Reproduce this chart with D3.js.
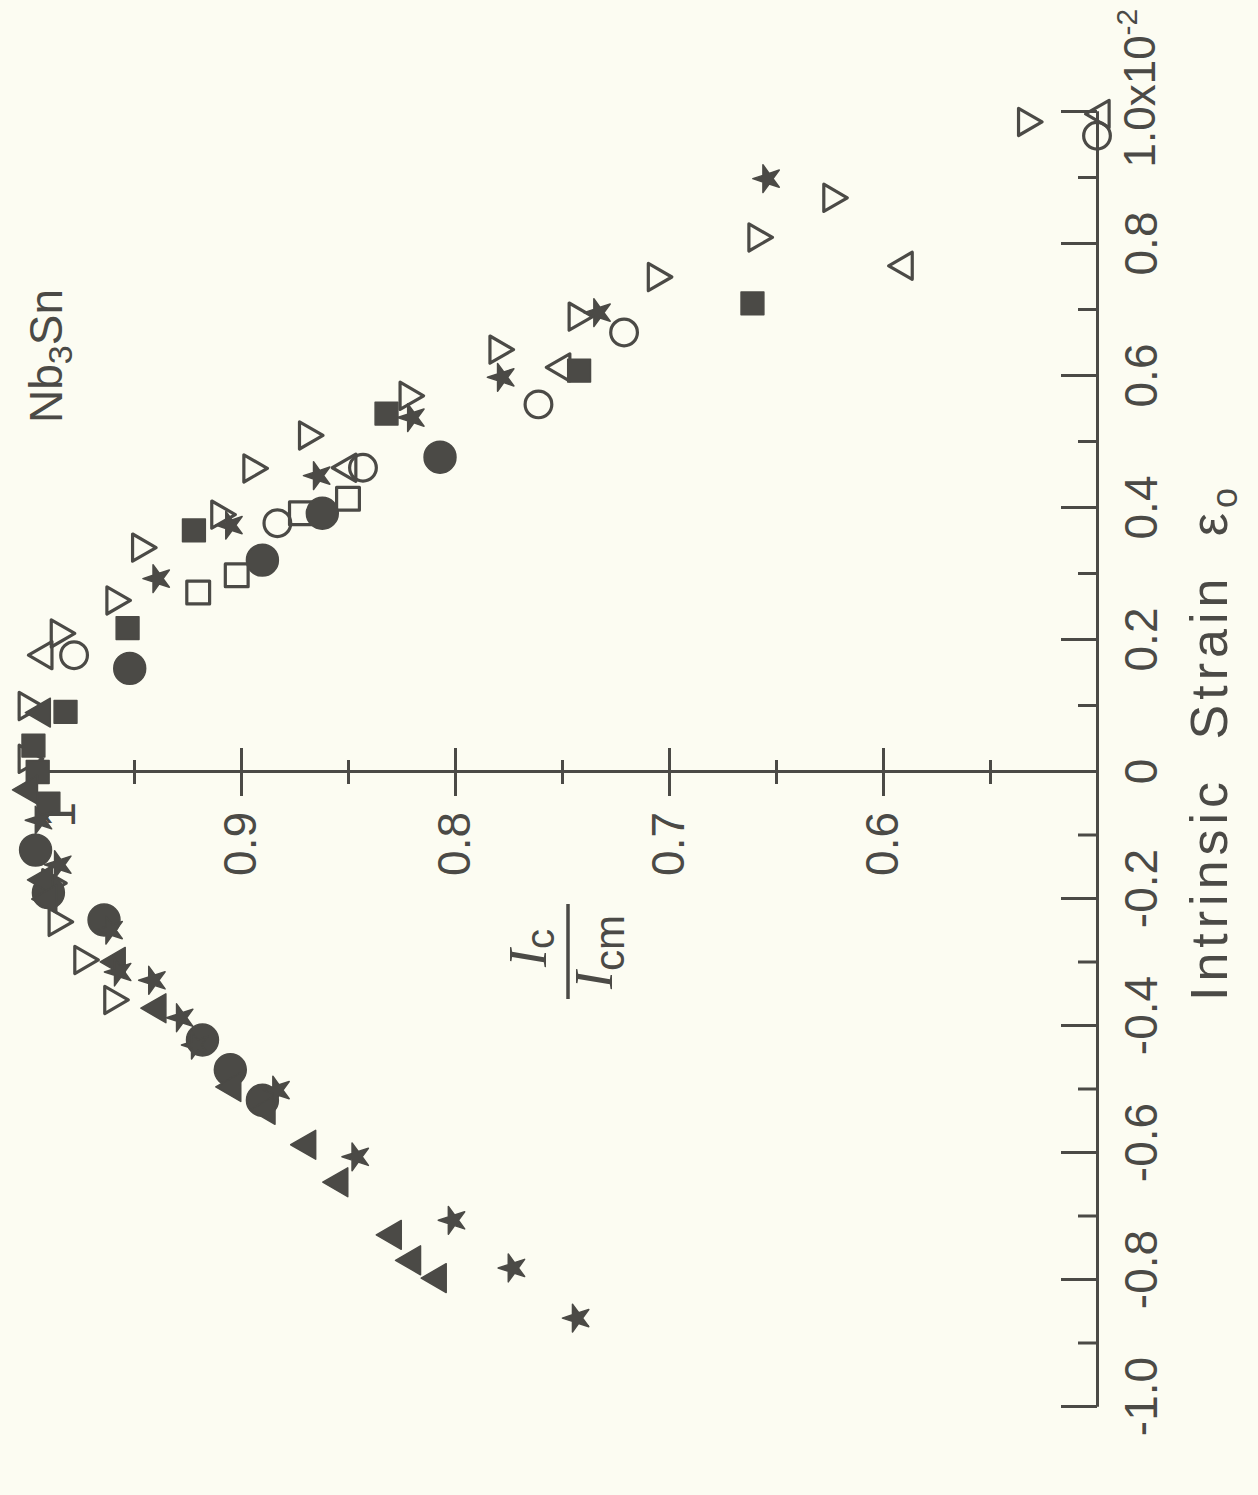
<!DOCTYPE html>
<html>
<head>
<meta charset="utf-8">
<script src="https://cdn.jsdelivr.net/npm/d3@7"></script>
<style>
  body { margin: 0; background: #fcfcf2; }
  svg { display: block; }
</style>
</head>
<body>
<script>
// [strain (x 10^-2), Ic/Icm]
const openDown = [[0.10, 1.0], [0.21, 0.985], [0.26, 0.959], [0.34, 0.947], [0.39, 0.910], [0.46, 0.895],
  [0.51, 0.869], [0.57, 0.822], [0.64, 0.780], [0.69, 0.743], [0.75, 0.706], [0.81, 0.659], [0.87, 0.624],
  [0.985, 0.533], [0.02, 1.0], [-0.175, 0.989], [-0.236, 0.986], [-0.296, 0.974], [-0.359, 0.960]];
const filledUp = [[-0.299, 0.958], [-0.372, 0.939], [-0.496, 0.904], [-0.532, 0.888], [-0.587, 0.869],
  [-0.646, 0.854], [-0.729, 0.829], [-0.769, 0.820], [-0.797, 0.808], [0.09, 0.993], [-0.028, 0.999],
  [-0.17, 0.992], [-0.2, 0.99]];
const stars = [[0.899, 0.654], [0.696, 0.733], [0.598, 0.778], [0.537, 0.820], [0.449, 0.864], [0.374, 0.905],
  [0.293, 0.939], [-0.249, 0.961], [-0.315, 0.957], [-0.328, 0.941], [-0.387, 0.928], [-0.43, 0.921],
  [-0.501, 0.883], [-0.606, 0.846], [-0.706, 0.801], [-0.781, 0.773], [-0.860, 0.743], [-0.146, 0.985],
  [-0.076, 0.994]];
const filledCircles = [[0.477, 0.807], [0.392, 0.862], [0.321, 0.890], [0.157, 0.952], [-0.233, 0.964],
  [-0.422, 0.918], [-0.469, 0.905], [-0.517, 0.890], [-0.123, 0.996], [-0.19, 0.99]];
const openCircles = [[0.964, 0.50], [0.666, 0.721], [0.557, 0.761], [0.461, 0.843], [0.377, 0.883], [0.177, 0.978]];
const openUp = [[0.997, 0.498], [0.767, 0.590], [0.613, 0.750], [0.461, 0.850], [0.177, 0.992]];
const openSquares = [[0.414, 0.850], [0.392, 0.872], [0.298, 0.902], [0.272, 0.920]];
const filledSquares = [[0.710, 0.661], [0.608, 0.742], [0.543, 0.832], [0.366, 0.922], [0.218, 0.953], [0.091, 0.982],
  [0.04, 0.997], [0.0, 0.995], [-0.05, 0.99]];

const strainTicks = [-1, -0.8, -0.6, -0.4, -0.2, 0, 0.2, 0.4, 0.6, 0.8, 1];
const strainMinor = [-0.9, -0.7, -0.5, -0.3, -0.1, 0.1, 0.3, 0.5, 0.7, 0.9];
const ratioTicks = [0.6, 0.7, 0.8, 0.9];
const ratioMinor = [0.55, 0.65, 0.75, 0.85, 0.95];

const ink = "#4b4a46";
const width = 1258, height = 1495;

const svg = d3.select("body").append("svg").attr("width", width).attr("height", height);

// the plot is drawn upright and turned a quarter turn
const W = 1295, H = 1070;
const x = d3.scaleLinear().domain([-1, 0, 1]).range([0, 635, W]);
const y = d3.scaleLinear().domain([1, 0.5]).range([0, H]);

const g = svg.append("g").attr("transform", "translate(27,1407) rotate(-90)");

const font = "'Liberation Sans', Arial, sans-serif";
const fmt = d => d === 0 ? "0" : d3.format(".1f")(d).replace("\u2212", "-");

// strain axis (bottom in the upright plot)
const xMinor = g.append("g").attr("transform", `translate(0,${H})`)
  .call(d3.axisBottom(x).tickValues(strainMinor).tickSizeInner(-19).tickSizeOuter(0).tickFormat(""));
const xAxis = g.append("g").attr("transform", `translate(0,${H})`)
  .call(d3.axisBottom(x).tickValues(strainTicks).tickSizeInner(-36).tickSizeOuter(0).tickPadding(27)
    .tickFormat(fmt));
[xMinor, xAxis].forEach(a => {
  a.selectAll("path, line").attr("stroke", ink).attr("stroke-width", 3);
});
xAxis.selectAll("text").attr("font-family", font).attr("font-size", 46).attr("fill", ink);
xAxis.selectAll(".tick").filter(d => d < 0).select("text").attr("x", 10);
const lastTick = xAxis.selectAll(".tick").filter(d => d === 1).select("text");
lastTick.text(null).attr("text-anchor", "start").attr("x", -56).attr("font-size", 44);
lastTick.append("tspan").text("1.0x10");
lastTick.append("tspan").text("-2").attr("font-size", 30).attr("dy", -18);

// Ic/Icm axis along zero strain
const yMinor = g.append("g").attr("transform", `translate(${x(0)},0)`)
  .call(d3.axisLeft(y).tickValues(ratioMinor).tickSizeInner(12).tickSizeOuter(0).tickFormat(""));
const yAxis = g.append("g").attr("transform", `translate(${x(0)},0)`)
  .call(d3.axisLeft(y).tickValues(ratioTicks).tickSizeInner(24).tickSizeOuter(0).tickPadding(16)
    .tickFormat(d3.format(".1f")));
yMinor.selectAll(".tick line").attr("x1", 12);
yAxis.selectAll(".tick line").attr("x1", 24);
[yMinor, yAxis].forEach(a => {
  a.selectAll("path, line").attr("stroke", ink).attr("stroke-width", 3);
});
yAxis.selectAll("text").attr("font-family", font).attr("font-size", 46).attr("fill", ink);
g.append("text").attr("x", x(0) - 30).attr("y", y(0.985)).attr("dy", "0.35em")
  .attr("text-anchor", "end").attr("font-family", font).attr("font-size", 46).attr("fill", ink).text("1");

// data
const series = [
  { data: openDown, type: d3.symbolTriangle, size: 320, rot: 180, fill: false },
  { data: openUp, type: d3.symbolTriangle, size: 320, rot: 0, fill: false },
  { data: openCircles, type: d3.symbolCircle, size: 560, rot: 0, fill: false },
  { data: openSquares, type: d3.symbolSquare, size: 520, rot: 0, fill: false },
  { data: filledSquares, type: d3.symbolSquare, size: 520, rot: 0, fill: true },
  { data: filledCircles, type: d3.symbolCircle, size: 800, rot: 0, fill: true },
  { data: filledUp, type: d3.symbolTriangle, size: 360, rot: 0, fill: true },
  { data: stars, type: d3.symbolStar, size: 240, rot: 0, fill: true }
];
series.forEach(s => {
  g.append("g").selectAll("path").data(s.data).join("path")
    .attr("d", d3.symbol().type(s.type).size(s.size))
    .attr("transform", d => `translate(${x(d[0])},${y(d[1])}) rotate(${s.rot})`)
    .attr("fill", s.fill ? ink : "none")
    .attr("stroke", ink)
    .attr("stroke-width", s.fill ? 1.5 : 3.2)
    .attr("stroke-linejoin", "round");
});

// labels in page coordinates
svg.append("text").attr("transform", "translate(62,423) rotate(-90)")
  .attr("font-family", font).attr("font-size", 46).attr("fill", ink)
  .call(t => {
    t.append("tspan").text("Nb");
    t.append("tspan").text("3").attr("font-size", 34).attr("dy", 10);
    t.append("tspan").text("Sn").attr("dy", -10);
  });

svg.append("text").attr("transform", "translate(1227,742) rotate(-90)")
  .attr("text-anchor", "middle").attr("font-family", font).attr("font-size", 52).attr("fill", ink)
  .attr("letter-spacing", 5).attr("word-spacing", 18)
  .call(t => {
    t.append("tspan").text("Intrinsic Strain \u03b5");
    t.append("tspan").text("o").attr("font-size", 36).attr("dy", 10);
  });

const frac = svg.append("g").attr("transform", "translate(568,952) rotate(-90)");
frac.append("line").attr("x1", -47).attr("x2", 48).attr("stroke", ink).attr("stroke-width", 3.5);
frac.append("text").attr("x", 4).attr("y", -22).attr("text-anchor", "middle").attr("fill", ink)
  .call(t => {
    t.append("tspan").text("I").attr("font-family", "'Liberation Serif', serif").attr("font-style", "italic").attr("font-size", 54);
    t.append("tspan").text("c").attr("font-family", font).attr("font-size", 40).attr("dy", 8);
  });
frac.append("text").attr("x", 0).attr("y", 44).attr("text-anchor", "middle").attr("fill", ink)
  .call(t => {
    t.append("tspan").text("I").attr("font-family", "'Liberation Serif', serif").attr("font-style", "italic").attr("font-size", 54);
    t.append("tspan").text("cm").attr("font-family", font).attr("font-size", 42).attr("dy", 12);
  });
</script>
</body>
</html>
